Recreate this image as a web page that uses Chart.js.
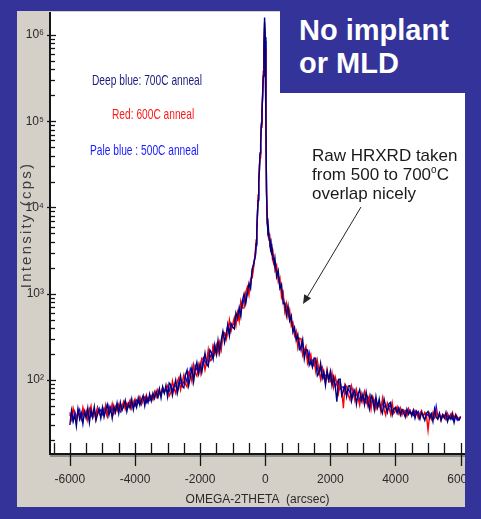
<!DOCTYPE html>
<html><head><meta charset="utf-8">
<script src="https://cdn.jsdelivr.net/npm/chart.js@4.4.1/dist/chart.umd.min.js"></script>
<style>
html,body{margin:0;padding:0;background:#333399;}
#wrap{position:relative;width:481px;height:519px;overflow:hidden;}
canvas{position:absolute;left:0;top:0;}
.lg{position:absolute;font-family:'Liberation Sans',Arial,sans-serif;font-size:15px;line-height:15px;white-space:nowrap;transform:scaleX(0.68);transform-origin:0 0;z-index:2;}
#titlebox{position:absolute;left:280px;top:0;width:201px;height:93px;background:#333399;color:#fff;font-family:'Liberation Sans',Arial,sans-serif;font-weight:bold;font-size:29px;line-height:33px;z-index:3;}
#titlebox div{position:absolute;left:19px;top:14px;white-space:nowrap;}
#raw{position:absolute;left:312px;top:146px;font-family:'Liberation Sans',Arial,sans-serif;font-size:17px;line-height:19px;color:#1a1a1a;white-space:nowrap;z-index:2;}
#raw sup{font-size:10px;line-height:0;vertical-align:7px;}
</style></head>
<body>
<div id="wrap">
<canvas id="c" width="481" height="519"></canvas>
<div class="lg" style="left:92px;top:72px;color:#1c1c7e;">Deep blue: 700C anneal</div>
<div class="lg" style="left:112px;top:106px;color:#ff1a1a;">Red: 600C anneal</div>
<div class="lg" style="left:90px;top:142px;color:#1a1aff;">Pale blue : 500C anneal</div>
<div id="raw">Raw HRXRD taken<br>from 500 to 700<sup>o</sup>C<br>overlap nicely</div>
<div id="titlebox"><div>No implant<br>or MLD</div></div>
</div>
<script>
// ---- data ----
const xs = [
 -6000,-5950,-5900,-5850,-5800,-5750,-5700,-5650,-5600,-5550,
 -5500,-5450,-5400,-5350,-5300,-5250,-5200,-5150,-5100,-5050,
 -5000,-4950,-4900,-4850,-4800,-4750,-4700,-4650,-4600,-4550,
 -4500,-4450,-4400,-4350,-4300,-4250,-4200,-4150,-4100,-4050,
 -4000,-3950,-3900,-3850,-3800,-3750,-3700,-3650,-3600,-3550,
 -3500,-3450,-3400,-3350,-3300,-3250,-3200,-3150,-3100,-3050,
 -3000,-2950,-2900,-2850,-2800,-2750,-2700,-2650,-2600,-2550,
 -2500,-2450,-2400,-2350,-2300,-2250,-2200,-2150,-2100,-2050,
 -2000,-1950,-1900,-1850,-1800,-1750,-1700,-1650,-1600,-1550,
 -1500,-1450,-1400,-1350,-1300,-1250,-1200,-1150,-1100,-1050,
 -1000,
 -950,-900,-850,-800,-750,-700,-650,-600,-550,-500,-450,-400,-350,-300,
 -280,-260,-240,-220,-200,-180,-160,-140,-120,-100,-80,-60,-40,-20,0,
 20,40,60,80,100,120,140,160,180,200,220,240,260,280,
 300,350,400,450,500,550,600,650,700,750,800,850,900,950,
 1000,1050,1100,1150,1200,1250,1300,1350,1400,1450,
 1500,1550,1600,1650,1700,1750,1800,1850,1900,1950,
 2000,2050,2100,2150,2200,2250,2300,2350,2400,2450,
 2500,2550,2600,2650,2700,2750,2800,2850,2900,2950,
 3000,3050,3100,3150,3200,3250,3300,3350,3400,3450,
 3500,3550,3600,3650,3700,3750,3800,3850,3900,3950,
 4000,4050,4100,4150,4200,4250,4300,4350,4400,4450,
 4500,4550,4600,4650,4700,4750,4800,4850,4900,4950,
 5000,5050,5100,5150,5200,5250,5300,5350,5400,5450,
 5500,5550,5600,5650,5700,5750,5800,5850,5900,5950,
 6000
];
const deepBlue700 = [
 30,44,33,39,29,46,35,41,31,43,
 36,47,32,44,38,49,34,40,46,36,
 48,37,45,52,39,47,36,50,42,54,
 41,55,44,50,58,43,53,47,60,45,
 56,48,62,51,59,66,50,63,55,69,
 57,70,61,74,64,79,62,83,70,86,
 64,92,87,66,83,100,70,85,111,84,
 81,114,130,86,107,140,95,132,160,119,
 154,121,156,205,155,144,222,206,173,254,
 198,288,208,294,366,272,345,426,324,451,
 410,
 391,600,523,690,544,836,996,765,1000,1320,1148,1955,2200,2850,
 3800,5200,8500,12000,21000,26000,43000,55000,95000,120000,210000,330000,750000,1600000,950000,
 110000,14000,7500,5200,5600,4200,4300,3400,3800,2800,3100,2500,2600,2200,
 2530,1573,1848,1152,1284,765,780,560,725,486,555,357,407,288,
 336,225,238,294,176,226,222,148,167,141,
 178,178,112,121,156,104,123,87,127,101,
 126,86,108,85,56,101,102,66,75,85,
 64,85,86,57,69,76,52,68,77,57,
 68,52,72,56,46,66,59,45,64,48,
 60,46,41,60,49,42,53,55,39,46,
 48,41,47,39,45,42,37,46,40,44,
 38,44,36,43,40,35,42,38,34,41,
 43,36,40,33,46,37,35,41,34,39,
 36,42,33,38,35,40,32,39,36,34,
 37
];
const red600 = [
 42,35,47,38,33,45,40,36,48,39,
 44,34,42,50,37,43,35,47,41,38,
 45,40,51,38,46,43,53,41,49,44,
 52,45,49,56,46,54,49,58,47,55,
 60,51,57,64,53,61,58,67,56,63,
 66,59,73,64,77,68,72,82,71,80,
 86,65,71,97,79,70,96,107,77,93,
 114,89,83,124,119,96,149,120,111,149,
 119,178,172,131,163,225,165,176,245,201,
 253,204,273,224,360,352,293,352,494,369,
 440,
 529,425,605,480,816,684,681,1035,1200,968,1485,1530,2090,3300,
 4200,6000,7500,14000,18000,31000,38000,65000,85000,140000,190000,380000,650000,1200000,700000,
 80000,17000,6500,6200,4800,4900,3700,3900,3100,3200,2600,2900,2300,2400,
 1870,2128,1386,1536,910,1035,624,770,536,648,423,462,326,368,
 238,305,300,193,220,246,154,171,197,144,
 171,126,168,127,102,140,123,92,130,95,
 95,121,83,108,91,70,94,78,47,89,
 83,67,59,85,72,58,77,62,51,69,
 56,73,60,50,64,46,64,58,46,53,
 55,43,61,45,39,54,48,40,54,41,
 44,49,41,47,39,45,43,38,46,41,
 40,45,38,43,36,41,44,37,42,39,
 26,40,35,42,37,44,36,41,34,40,
 39,35,41,36,38,42,34,40,37,35,
 38
];
const paleBlue500 = [
 38,41,34,43,37,40,45,35,42,39,
 41,37,46,40,36,44,39,48,42,45,
 40,47,43,38,50,44,48,41,46,52,
 47,43,51,48,54,46,52,57,49,53,
 50,58,54,61,52,59,63,55,62,58,
 63,60,68,65,62,73,69,76,72,78,
 75,73,87,75,87,85,78,96,91,88,
 95,109,94,103,136,123,104,145,131,122,
 147,136,179,164,151,202,197,176,245,212,
 209,264,260,246,345,336,317,444,356,443,
 430,
 460,525,495,600,748,722,872,810,1100,1100,1283,1870,2310,2760,
 3600,5000,8200,12500,20000,27000,41000,58000,90000,125000,200000,340000,700000,1400000,850000,
 95000,15000,7000,5600,5100,4500,4100,3600,3400,3000,2900,2700,2500,2300,
 2200,1758,1617,1178,1124,900,741,735,599,540,494,399,370,304,
 308,265,220,263,209,215,174,207,154,168,
 147,163,140,118,134,140,105,112,119,98,
 110,96,108,85,91,99,78,82,83,69,
 71,78,72,64,76,63,67,70,58,63,
 65,58,54,64,58,52,62,52,54,48,
 52,47,55,48,51,44,48,52,43,46,
 46,43,47,42,45,41,44,40,46,41,
 42,39,44,40,43,38,42,39,41,38,
 40,37,41,38,36,49,37,39,36,40,
 38,35,39,36,40,35,38,37,34,36,
 37
];
const xTickLabels = [-6000,-4000,-2000,0,2000,4000,6000];
const yTickValues = [100,1000,10000,100000,1000000];
const seriesNames = ['Deep blue: 700C anneal','Red: 600C anneal','Pale blue : 500C anneal'];

const TICKFONT = "'Liberation Sans Narrow','Arial Narrow','Liberation Sans',sans-serif";
const SUP = ['\u2070','\u00B9','\u00B2','\u00B3','\u2074','\u2075','\u2076'];

const framePlugin = {
  id: 'framePlugin',
  beforeDraw(chart) {
    const {ctx, chartArea: a} = chart;
    ctx.save();
    ctx.fillStyle = '#333399'; ctx.fillRect(0, 0, chart.width, chart.height);
    ctx.fillStyle = '#d4d0c8'; ctx.fillRect(17, 11, 448, 496);
    ctx.fillStyle = '#ffffff'; ctx.fillRect(a.left, a.top, a.right - a.left, a.bottom - a.top);
    ctx.restore();
  },
  afterDraw(chart) {
    const {ctx, chartArea: a, scales} = chart;
    const sx = scales.x, sy = scales.y;
    ctx.save();
    ctx.fillStyle = '#8c8c8c'; ctx.fillRect(a.left, a.bottom + 1, a.right - a.left, 3);
    ctx.strokeStyle = '#151515'; ctx.lineWidth = 2;
    ctx.beginPath(); ctx.moveTo(a.left, a.top); ctx.lineTo(a.left, a.bottom + 1); ctx.lineTo(a.right, a.bottom + 1); ctx.stroke();
    ctx.lineWidth = 1.3;
    for (let v = -6500; v <= 6000; v += 500) {
      const px = Math.round(sx.getPixelForValue(v)) + 0.5;
      const major = v % 2000 === 0;
      ctx.beginPath(); ctx.moveTo(px, a.bottom - 10); ctx.lineTo(px, major ? a.bottom + 13 : a.bottom); ctx.stroke();
    }
    for (let e = 1; e <= 6; e++) {
      for (let m = 1; m <= 9; m++) {
        const v = m * Math.pow(10, e);
        if (v < sy.min || v > sy.max) continue;
        const py = Math.round(sy.getPixelForValue(v)) + 0.5;
        ctx.beginPath();
        if (m === 1) { ctx.moveTo(a.left - 3, py); ctx.lineTo(a.left + 6, py); }
        else { ctx.moveTo(a.left, py); ctx.lineTo(a.left + 5, py); }
        ctx.stroke();
      }
    }
    ctx.save();
    ctx.translate(31, 225); ctx.rotate(-Math.PI / 2);
    ctx.font = "15px 'Liberation Sans', Arial, sans-serif";
    ctx.fillStyle = '#3d3d3d'; ctx.textAlign = 'center'; ctx.textBaseline = 'alphabetic';
    if ('letterSpacing' in ctx) ctx.letterSpacing = '2.2px';
    ctx.fillText('Intensity (cps)', 0, 0);
    ctx.restore();
    ctx.strokeStyle = '#262626'; ctx.fillStyle = '#262626'; ctx.lineWidth = 1;
    const x0 = 361, y0 = 207, x1 = 303, y1 = 304;
    const ang = Math.atan2(y1 - y0, x1 - x0);
    ctx.beginPath(); ctx.moveTo(x0, y0); ctx.lineTo(x1 - 6 * Math.cos(ang), y1 - 6 * Math.sin(ang)); ctx.stroke();
    ctx.beginPath();
    ctx.moveTo(x1, y1);
    ctx.lineTo(x1 - 9 * Math.cos(ang) + 4 * Math.sin(ang), y1 - 9 * Math.sin(ang) - 4 * Math.cos(ang));
    ctx.lineTo(x1 - 9 * Math.cos(ang) - 4 * Math.sin(ang), y1 - 9 * Math.sin(ang) + 4 * Math.cos(ang));
    ctx.closePath(); ctx.fill();
    ctx.fillStyle = '#333399'; ctx.fillRect(465, 0, 16, chart.height);
    ctx.restore();
  }
};

const mk = (vals) => xs.map((x, i) => ({x: x, y: vals[i]}));

new Chart(document.getElementById('c'), {
  type: 'line',
  data: {
    datasets: [
      {label: seriesNames[0], data: mk(deepBlue700), borderColor: '#00007c', borderWidth: 1.4},
      {label: seriesNames[1], data: mk(red600), borderColor: '#ff0000', borderWidth: 1.4},
      {label: seriesNames[2], data: mk(paleBlue500), borderColor: '#0a0aff', borderWidth: 1.4}
    ]
  },
  options: {
    responsive: false, devicePixelRatio: 1, animation: false,
    elements: {point: {radius: 0}, line: {tension: 0}},
    layout: {padding: {left: 17, top: 12, right: 16, bottom: 0}},
    plugins: {legend: {display: false}, tooltip: {enabled: false}, title: {display: false}},
    scales: {
      x: {
        type: 'linear', min: -6610, max: 6135,
        afterBuildTicks: s => { s.ticks = xTickLabels.map(v => ({value: v})); },
        afterFit: s => { s.height = 66; s.paddingLeft = 0; s.paddingRight = 0; },
        grid: {display: false, drawTicks: false}, border: {display: false},
        ticks: {autoSkip: false, maxRotation: 0, padding: 19, color: '#2a2a2a',
                font: {family: TICKFONT, size: 12}, callback: v => String(v)},
        title: {display: true, text: 'OMEGA-2THETA  (arcsec)', color: '#2a2a2a',
                font: {family: TICKFONT, size: 12}, padding: {top: 0, bottom: 12}}
      },
      y: {
        type: 'logarithmic', min: 14.2, max: 1.85e6,
        afterBuildTicks: s => { s.ticks = yTickValues.map(v => ({value: v})); },
        afterFit: s => { s.width = 33; s.paddingTop = 0; s.paddingBottom = 0; },
        grid: {display: false, drawTicks: false}, border: {display: false},
        ticks: {autoSkip: false, padding: 6, color: '#2a2a2a',
                font: {family: TICKFONT, size: 12},
                callback: v => '10' + SUP[Math.round(Math.log10(v))]}
      }
    }
  },
  plugins: [framePlugin]
});
</script>
</body></html>
